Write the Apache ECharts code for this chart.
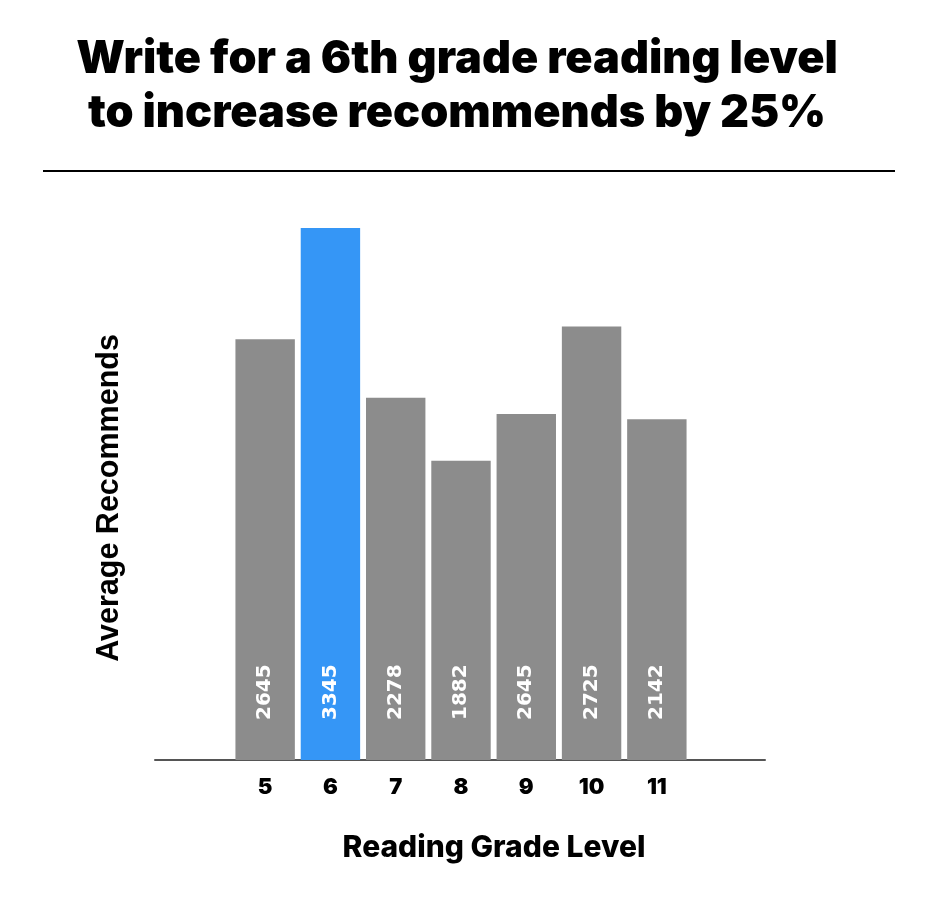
<!DOCTYPE html>
<html>
<head>
<meta charset="utf-8">
<script src="https://cdn.jsdelivr.net/npm/echarts@6/dist/echarts.min.js"></script>
<style>
  html, body { margin: 0; padding: 0; background: #fff; }
  #chart { width: 930px; height: 912px; }
</style>
</head>
<body>
<div id="chart"></div>
<script>
const titleLines = ['Write for a 6th grade reading level', 'to increase recommends by 25%'];
const categories = ['5', '6', '7', '8', '9', '10', '11'];
// bar heights as drawn in the picture
const barValues = [2645, 3345, 2278, 1882, 2175, 2725, 2142];
// labels as printed inside the bars
const barLabels = ['2645', '3345', '2278', '1882', '2645', '2725', '2142'];
const highlightCategory = '6';
const xAxisName = 'Reading Grade Level';
const yAxisName = 'Average Recommends';
const yMax = 3500;

const chart = echarts.init(document.getElementById('chart'), null, { renderer: 'canvas' });

const GRAY = '#8c8c8c';
const BLUE = '#3596f6';

const option = {
  backgroundColor: '#ffffff',
  animation: false,
  title: {
    text: titleLines.join('\n'),
    left: 452,
    top: 27,
    textAlign: 'center',
    textStyle: {
      fontFamily: 'Inter',
      fontWeight: 900,
      fontSize: 45,
      lineHeight: 54,
      color: '#000'
    }
  },
  graphic: [{
    type: 'line',
    shape: { x1: 43, y1: 171, x2: 895, y2: 171 },
    style: { stroke: '#000', lineWidth: 2 }
  }],
  grid: [
    { left: 155, right: 165, top: 236, bottom: 152, containLabel: false },
    { left: 232.5, right: 930 - 689.5, top: 203.3, bottom: 152, containLabel: false }
  ],
  xAxis: [
    {
      gridIndex: 0,
      type: 'category',
      data: categories,
      axisLine: { show: true, lineStyle: { color: '#555', width: 2 } },
      axisTick: { show: false },
      axisLabel: { show: false },
      name: xAxisName,
      nameLocation: 'middle',
      nameGap: 73,
      nameTextStyle: {
        fontFamily: 'Inter',
        fontWeight: 800,
        fontSize: 30,
        color: '#000',
        padding: [0, 0, 0, 68]
      }
    },
    {
      gridIndex: 1,
      type: 'category',
      data: categories,
      axisLine: { show: false },
      axisTick: { show: false },
      axisLabel: {
        margin: 16,
        fontFamily: 'Inter',
        fontWeight: 900,
        fontSize: 22,
        color: '#000'
      }
    }
  ],
  yAxis: [
    {
      gridIndex: 0,
      type: 'value',
      min: 0,
      max: yMax,
      axisLine: { show: false },
      axisTick: { show: false },
      axisLabel: { show: false },
      splitLine: { show: false },
      name: yAxisName,
      nameLocation: 'middle',
      nameGap: 30,
      nameTextStyle: {
        fontFamily: 'Liberation Sans',
        fontWeight: 'bold',
        fontSize: 30.5,
        color: '#000'
      }
    },
    {
      gridIndex: 1,
      type: 'value',
      min: 0,
      max: yMax,
      axisLine: { show: false },
      axisTick: { show: false },
      axisLabel: { show: false },
      splitLine: { show: false }
    }
  ],
  series: [{
    type: 'bar',
    xAxisIndex: 1,
    yAxisIndex: 1,
    barCategoryGap: '9%',
    data: barValues.map((v, i) => ({
      value: v,
      itemStyle: { color: categories[i] === highlightCategory ? BLUE : GRAY }
    })),
    label: {
      show: true,
      position: 'insideBottom',
      rotate: 90,
      align: 'left',
      verticalAlign: 'middle',
      distance: 40,
      formatter: p => barLabels[p.dataIndex],
      fontFamily: 'DejaVu Sans',
      fontWeight: 'bold',
      fontSize: 20,
      color: '#fff'
    }
  }]
};

chart.setOption(option);
</script>
</body>
</html>
